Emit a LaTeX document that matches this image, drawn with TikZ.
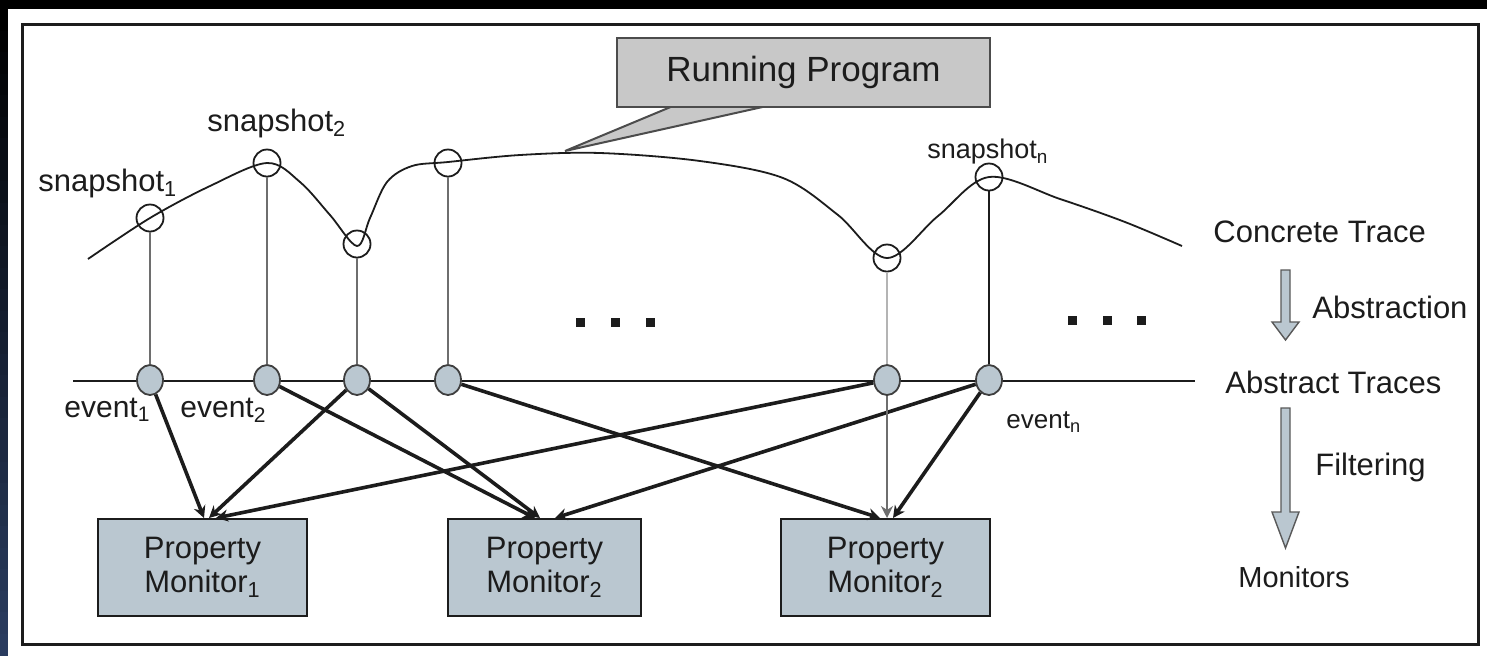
\documentclass[tikz,border=0pt]{standalone}
\usepackage{fontspec}
\setmainfont{Liberation Sans}
\usetikzlibrary{shapes.geometric,arrows.meta}
\definecolor{pmfill}{RGB}{186,199,208}
\definecolor{rpfill}{RGB}{200,200,200}
\definecolor{vgray}{RGB}{110,110,110}
\definecolor{lgray}{RGB}{180,180,180}
\definecolor{bandblue}{RGB}{42,60,95}
\definecolor{linec}{RGB}{28,28,28}
\begin{document}
\begin{tikzpicture}[x=0.5pt,y=-0.5pt,
  snap/.style={circle,draw=linec,line width=0.9pt,minimum size=13.5pt,inner sep=0pt},
  evt/.style={ellipse,draw=linec!85,fill=pmfill,line width=0.9pt,minimum width=13pt,minimum height=15pt,inner sep=0pt},
  monbox/.style={rectangle,draw=linec,fill=pmfill,line width=1.3pt,minimum height=48.5pt,align=center,font=\fontsize{15.5}{17}\selectfont,inner sep=0pt,text=linec},
  rpbox/.style={rectangle,draw=black!70,fill=rpfill,line width=1.2pt,minimum width=186.5pt,minimum height=34.5pt,font=\fontsize{17.5}{20}\selectfont,inner sep=0pt,text=linec},
  lbl/.style={font=\fontsize{15.5}{18}\selectfont,inner sep=0pt,text=linec,anchor=west},
  vline/.style={draw=vgray,line width=1pt},
  evarr/.style={draw=linec,line width=1.8pt,-{Stealth[length=6pt,width=6pt]}},
  dotsq/.style={rectangle,fill=linec,minimum size=4.5pt,inner sep=0pt},
  blockarr/.style={fill=pmfill,draw=black!65,line width=0.7pt},
]
\useasboundingbox (0,0) rectangle (1487,655);
% background
\fill[black] (0,0) rectangle (1487,655);
\fill[white] (8,9) rectangle (1487,655);
\foreach \i in {0,...,29}{
  \pgfmathsetmacro\p{\i*100/29}
  \fill[bandblue!\p!black] (0,{9+\i*21.55}) rectangle (8,{9+(\i+1)*21.55});
}
% frame
\draw[linec,line width=1.5pt] (22,24) rectangle (1478,644);

% callout pointer and running program box
\coordinate (pl) at (673,106);
\coordinate (pr) at (767,106);
\coordinate (tip) at (565,151);
\draw[fill=rpfill,draw=black!70,line width=1pt,line join=miter] (pl) -- (tip) -- (pr);
\node[rpbox] (rp) at (803.5,72.5) {Running Program};

% concrete trace curve
\draw[linec,line width=0.9pt] plot[smooth,tension=0.55] coordinates {
 (88,259) (150,218) (210,186) (267,163) (300,182) (330,215) (357,246)
 (370,218) (387,182) (412,166) (448,162) (520,155) (600,153) (700,161)
 (783,178) (838,215) (887,258) (938,216) (989,177) (1060,199) (1125,222) (1182,246)};

% snapshots
\node[snap] (c1) at (150,218) {};
\node[snap] (c2) at (267,163) {};
\node[snap] (c3) at (357,244) {};
\node[snap] (c4) at (448,163) {};
\node[snap] (c5) at (887,258) {};
\node[snap] (c6) at (989,177) {};

% abstract trace line
\coordinate (hl) at (73,381);
\coordinate (hr) at (1195,381);
\draw[linec,line width=1.25pt] (hl) -- (hr);

% events
\node[evt] (e1) at (150,380) {};
\node[evt] (e2) at (267,380) {};
\node[evt] (e3) at (357,380) {};
\node[evt] (e4) at (448,380) {};
\node[evt] (e5) at (887,380) {};
\node[evt] (e6) at (989,380) {};

% vertical links
\draw[vline] (c1) -- (e1);
\draw[vline] (c2) -- (e2);
\draw[vline] (c3) -- (e3);
\draw[vline] (c4) -- (e4);
\draw[draw=lgray,line width=0.6pt] (c5) -- (e5);
\draw[draw=linec,line width=1pt] (c6) -- (e6);

% monitors
\node[monbox,minimum width=104.5pt] (pm1) at (202.5,567.5) {Property\\Monitor\textsubscript{1}};
\node[monbox,minimum width=96.5pt] (pm2) at (544.5,567.5) {Property\\Monitor\textsubscript{2}};
\node[monbox,minimum width=104.5pt] (pm3) at (885.5,567.5) {Property\\Monitor\textsubscript{2}};

% arrow targets
\coordinate (t11) at (204,518);
\coordinate (t13) at (209,518);
\coordinate (t15) at (216,518);
\coordinate (t22) at (535,518);
\coordinate (t23) at (540,518);
\coordinate (t26) at (555,518);
\coordinate (t34) at (880,518);
\coordinate (t35) at (887,518);
\coordinate (t36) at (893,518);

\draw[evarr] (e1) -- (t11);
\draw[evarr] (e3) -- (t13);
\draw[evarr] (e5) -- (t15);
\draw[evarr] (e2) -- (t22);
\draw[evarr] (e3) -- (t23);
\draw[evarr] (e6) -- (t26);
\draw[evarr] (e4) -- (t34);
\draw[vline,-{Stealth[length=6pt,width=6pt]}] (e5) -- (t35);
\draw[evarr] (e6) -- (t36);

% labels
\node[lbl] (s1) at (38,183) {snapshot\textsubscript{1}};
\node[lbl] (s2) at (207,123) {snapshot\textsubscript{2}};
\node[lbl,font=\fontsize{13.5}{16}\selectfont] (sn) at (927,152) {snapshot\textsubscript{n}};
\node[lbl,font=\fontsize{15}{18}\selectfont] (ev1) at (64,410) {event\textsubscript{1}};
\node[lbl,font=\fontsize{15}{18}\selectfont] (ev2) at (180,410) {event\textsubscript{2}};
\node[lbl,font=\fontsize{13}{16}\selectfont] (evn) at (1006,422) {event\textsubscript{n}};

% ellipses
\node[dotsq] (d1) at (580,322) {};
\node[dotsq] (d2) at (615,322) {};
\node[dotsq] (d3) at (650,322) {};
\node[dotsq] (d4) at (1072,320) {};
\node[dotsq] (d5) at (1107,320) {};
\node[dotsq] (d6) at (1141,320) {};

% legend
\node[lbl] (ct) at (1213,232) {Concrete Trace};
\node[lbl] (abn) at (1312,307) {Abstraction};
\node[lbl] (at) at (1225,382) {Abstract Traces};
\node[lbl] (flt) at (1315,467) {Filtering};
\node[lbl,font=\fontsize{14.5}{17}\selectfont] (mon) at (1238,577) {Monitors};

\draw[blockarr] (1281,270) -- (1290,270) -- (1290,322) -- (1299,322) -- (1285.5,340) -- (1272,322) -- (1281,322) -- cycle;
\draw[blockarr] (1281,408) -- (1290,408) -- (1290,512) -- (1299,512) -- (1285.5,548) -- (1272,512) -- (1281,512) -- cycle;
\end{tikzpicture}
\end{document}
